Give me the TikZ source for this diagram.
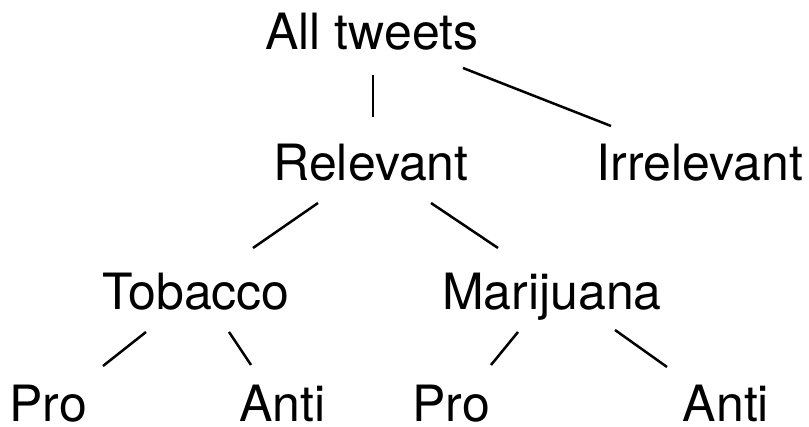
\documentclass[tikz,border=0pt]{standalone}
\usepackage{fontspec}
\setmainfont{TeX Gyre Heros}
\begin{document}
\begin{tikzpicture}[x=1pt,y=1pt,
  label/.style={anchor=base,inner sep=0pt,font=\fontsize{50}{60}\selectfont},
  branch/.style={line width=2.5pt,black}]
\useasboundingbox (0,0) rectangle (809,427);
% tree labels, placed on their baselines
\node[label] (all)   at (372,377)   {All tweets};
\node[label] (rel)   at (371,246)   {Relevant};
\node[label] (irr)   at (700,246)   {Irrelevant};
\node[label] (tob)   at (196,117)   {Tobacco};
\node[label] (mar)   at (552,117)   {Marijuana};
\node[label] (tpro)  at (48,5)      {Pro};
\node[label] (tanti) at (282.5,5)   {Anti};
\node[label] (mpro)  at (451,5)     {Pro};
\node[label] (manti) at (726,5)     {Anti};
% branches between the levels
\draw[branch] ([shift={(1,-25)}]all.base)  -- ([shift={(2,64)}]rel.base);
\draw[branch] ([shift={(91,-18)}]all.base) -- ([shift={(-89,55)}]irr.base);
\draw[branch] ([shift={(-53,-22)}]rel.base) -- ([shift={(57,62)}]tob.base);
\draw[branch] ([shift={(60,-22)}]rel.base) -- ([shift={(-54,62)}]mar.base);
\draw[branch] ([shift={(-50,-22)}]tob.base) -- ([shift={(55,56)}]tpro.base);
\draw[branch] ([shift={(33,-22)}]tob.base) -- ([shift={(-31.5,57)}]tanti.base);
\draw[branch] ([shift={(-34,-22)}]mar.base) -- ([shift={(40,57)}]mpro.base);
\draw[branch] ([shift={(63,-20)}]mar.base) -- ([shift={(-59,55)}]manti.base);
\end{tikzpicture}
\end{document}
